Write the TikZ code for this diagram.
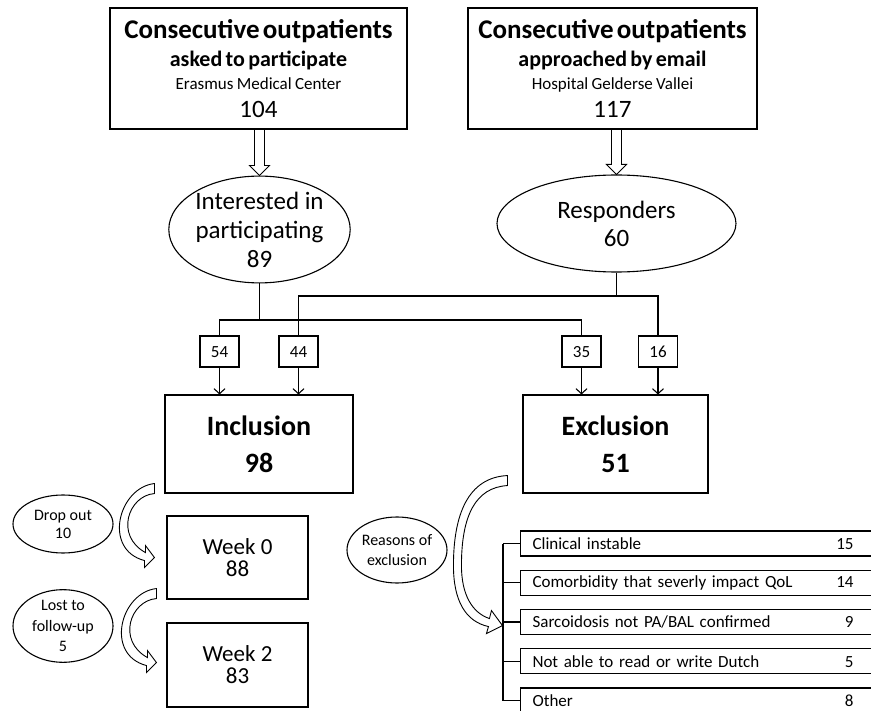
\documentclass[tikz,border=0pt]{standalone}
\usepackage{fontspec}
\setmainfont{Carlito}
\usetikzlibrary{shapes.geometric,arrows.meta,calc}
\tikzset{
  box/.style={draw, line width=1.1pt, rectangle, inner sep=0pt, align=center},
  oval/.style={draw, line width=1.1pt, ellipse, inner sep=0pt, align=center},
  count/.style={box, minimum width=39, minimum height=31, text height=11.5pt, text depth=0pt,
    font=\fontsize{17}{20}\selectfont},
  reason/.style={box, anchor=west, minimum height=25, text width=336, inner xsep=12pt,
    align=left, font=\fontsize{17}{20}\selectfont},
  link/.style={line width=1.1pt},
  bend arrow/.pic={
    \draw[line width=0.9pt, fill=white] (0,0) .. controls (-36,4) and (-52,66) .. (-10,77)
      -- (-10,84) -- (0,74) -- (-9,62) -- (-9,69) .. controls (-40,52) and (-26,12) .. (0,10) -- cycle;
  },
  big bend arrow/.pic={
    \draw[line width=0.9pt, fill=white] (0,0) .. controls (-40,2) and (-54,40) .. (-54,90)
      .. controls (-54,125) and (-42,146) .. (-19,151) -- (-21,158) -- (-5,150) -- (-16,135)
      -- (-18,143) .. controls (-36,137) and (-46,118) .. (-46,90)
      .. controls (-46,40) and (-32,12) .. (0,10) -- cycle;
  }
}
% hollow arrow straight down from #1 to #2
\newcommand{\blockdown}[2]{%
  \draw[line width=0.9pt] let \p1=(#1.south), \p2=(#2.north) in
    ({\x2-5pt},\y1) -- ({\x2-5pt},{\y2+10pt}) -- ({\x2-10pt},{\y2+10pt}) -- (\x2,\y2)
    -- ({\x2+10pt},{\y2+10pt}) -- ({\x2+5pt},{\y2+10pt}) -- ({\x2+5pt},\y1);}

\begin{document}
\begin{tikzpicture}[x=1pt, y=-1pt]
  \useasboundingbox (0,0) rectangle (871,711);
  \clip (0,0) rectangle (871,711);

  \node[box, minimum width=297, minimum height=121, text width=285] (erasmus) at (258.5,68.5)
    {\fontsize{27}{30}\selectfont\bfseries Consecutive outpatients\\
     \fontsize{22}{27.7}\selectfont asked to participate\\
     \fontsize{17}{23}\selectfont\mdseries Erasmus Medical Center\\
     \fontsize{25}{28}\selectfont 104\par};
  \node[box, minimum width=289, minimum height=121, text width=280] (gelderse) at (612.5,68.5)
    {\fontsize{27}{30}\selectfont\bfseries Consecutive outpatients\\
     \fontsize{22}{27.7}\selectfont approached by email\\
     \fontsize{17}{23}\selectfont\mdseries Hospital Gelderse Vallei\\
     \fontsize{25}{28}\selectfont 117\par};

  \node[oval, minimum width=169, minimum height=105, font=\fontsize{25}{29}\selectfont] (interest)
    at (259.5,229.5) {Interested in\\participating\\89};
  \node[oval, minimum width=239, minimum height=97, font=\fontsize{25}{28}\selectfont] (respond)
    at (616.5,223.5) {Responders\\60};

  \blockdown{erasmus}{interest}
  \blockdown{gelderse}{respond}

  \node[count] (n54) at (219.5,351.5) {54};
  \node[count] (n44) at (298.5,351.5) {44};
  \node[count] (n35) at (581.5,351.5) {35};
  \node[count] (n16) at (658,351.5) {16};

  \coordinate (intbar) at (interest.south |- 0,320);
  \coordinate (respbar) at (respond.south |- 0,296);
  \draw[link] (interest.south) -- (intbar);
  \draw[link] (respond.south) -- (respbar);
  \draw[link] (n44.north) |- (respbar) -| (n16.north);
  \draw[link] (n54.north) |- (intbar) -| (n35.north);

  \node[box, minimum width=188, minimum height=98, font=\fontsize{28}{37}\selectfont\bfseries] (incl)
    at (259,444) {Inclusion\\98};
  \node[box, minimum width=185, minimum height=98, font=\fontsize{28}{37}\selectfont\bfseries] (excl)
    at (615.5,444) {Exclusion\\51};

  \foreach \n/\t in {n54/incl, n44/incl, n35/excl, n16/excl}
    \draw[link, -{Straight Barb[length=5pt, width=11pt]}] (\n.south) -- (\n.south |- \t.north);

  \node[box, minimum width=141, minimum height=83, font=\fontsize{23}{22}\selectfont] (week0)
    at (237.5,557.5) {Week 0\\88};
  \node[box, minimum width=141, minimum height=84, font=\fontsize{23}{22}\selectfont] (week2)
    at (237.5,665) {Week 2\\83};

  \node[oval, minimum width=100, minimum height=58, font=\fontsize{16}{18}\selectfont] (drop)
    at (63,524) {Drop out\\10};
  \node[oval, minimum width=100, minimum height=62, font=\fontsize{16}{20.5}\selectfont] (lost)
    at (63,626) {Lost to\\follow-up\\5};
  \node[oval, minimum width=100, minimum height=66, font=\fontsize{16}{20}\selectfont] (reasons)
    at (397,550) {Reasons of\\exclusion};

  \pic at ([xshift=-10pt, yshift=10pt]incl.south west) {bend arrow};
  \pic at ([xshift=-10pt, yshift=11pt]week0.south west) {bend arrow};
  \pic at ([xshift=-15pt, yshift=18pt]excl.south west) {big bend arrow};

  \foreach \t/\v [count=\i] in {Clinical instable/15, Comorbidity that severly impact QoL/14,
      {Sarcoidosis not PA/BAL confirmed}/9, Not able to read or write Dutch/5, Other/8}
    \node[reason] (r\i) at (520,{543.5+(\i-1)*39.25}) {\t\hfill\v\rule{15pt}{0pt}};
  \foreach \i in {1,...,5}
    \draw[link] (r\i.west) -- ++(-17,0);
  \draw[link] ([xshift=-17pt]r1.west) -- ([xshift=-17pt]r5.west);
\end{tikzpicture}
\end{document}
